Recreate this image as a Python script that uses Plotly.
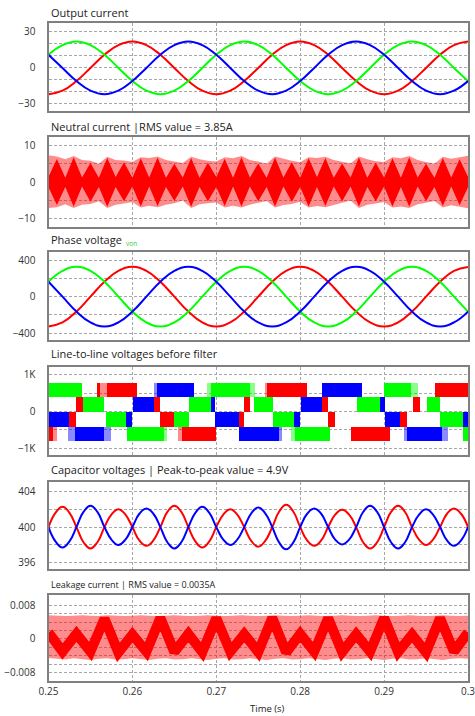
import plotly.graph_objects as go

W, H = 475, 716

# ---------------- data ----------------
# 30-degree (50 Hz) sampling instants
T30 = [0.25, 0.25167, 0.25333, 0.255, 0.25667, 0.25833, 0.26, 0.26167, 0.26333, 0.265,
       0.26667, 0.26833, 0.27, 0.27167, 0.27333, 0.275, 0.27667, 0.27833, 0.28, 0.28167,
       0.28333, 0.285, 0.28667, 0.28833, 0.29, 0.29167, 0.29333, 0.295, 0.29667, 0.29833, 0.3]

# Output current (A)
I_RED = [-22, -19, -11, 0, 11, 19, 22, 19, 11, 0, -11, -19, -22, -19, -11, 0, 11, 19, 22, 19,
         11, 0, -11, -19, -22, -19, -11, 0, 11, 19, 22]
I_GREEN = [11, 19, 22, 19, 11, 0, -11, -19, -22, -19, -11, 0, 11, 19, 22, 19, 11, 0, -11, -19,
           -22, -19, -11, 0, 11, 19, 22, 19, 11, 0, -11]
I_BLUE = [11, 0, -11, -19, -22, -19, -11, 0, 11, 19, 22, 19, 11, 0, -11, -19, -22, -19, -11, 0,
          11, 19, 22, 19, 11, 0, -11, -19, -22, -19, -11]

# Phase voltage (V)
V_RED = [-325, -281, -163, 0, 163, 281, 325, 281, 163, 0, -163, -281, -325, -281, -163, 0, 163, 281,
         325, 281, 163, 0, -163, -281, -325, -281, -163, 0, 163, 281, 325]
V_GREEN = [163, 281, 325, 281, 163, 0, -163, -281, -325, -281, -163, 0, 163, 281, 325, 281, 163, 0,
           -163, -281, -325, -281, -163, 0, 163, 281, 325, 281, 163, 0, -163]
V_BLUE = [163, 0, -163, -281, -325, -281, -163, 0, 163, 281, 325, 281, 163, 0, -163, -281, -325, -281,
          -163, 0, 163, 281, 325, 281, 163, 0, -163, -281, -325, -281, -163]

# 45-degree (150 Hz) sampling instants for the capacitor voltages
T60 = [0.25, 0.25083, 0.25167, 0.2525, 0.25333, 0.25417, 0.255, 0.25583, 0.25667, 0.2575,
       0.25833, 0.25917, 0.26, 0.26083, 0.26167, 0.2625, 0.26333, 0.26417, 0.265, 0.26583,
       0.26667, 0.2675, 0.26833, 0.26917, 0.27, 0.27083, 0.27167, 0.2725, 0.27333, 0.27417,
       0.275, 0.27583, 0.27667, 0.2775, 0.27833, 0.27917, 0.28, 0.28083, 0.28167, 0.2825,
       0.28333, 0.28417, 0.285, 0.28583, 0.28667, 0.2875, 0.28833, 0.28917, 0.29, 0.29083,
       0.29167, 0.2925, 0.29333, 0.29417, 0.295, 0.29583, 0.29667, 0.2975, 0.29833, 0.29917, 0.3]

# Capacitor voltages (V)
C_RED = [400, 401.6, 402.3, 401.6, 400, 398.3, 397.6, 398.3, 400, 401.4, 402.0, 401.4, 400, 398.5,
         397.9, 398.5, 400, 401.7, 402.4, 401.7, 400, 398.4, 397.7, 398.4, 400, 401.4, 402.0, 401.4,
         400, 398.45, 397.8, 398.45, 400, 401.75, 402.5, 401.75, 400, 398.5, 397.9, 398.5, 400,
         401.4, 401.95, 401.4, 400, 398.3, 397.6, 398.3, 400, 401.7, 402.4, 401.7, 400, 398.6,
         398.0, 398.6, 400, 401.5, 402.1, 401.5, 400]
C_BLUE = [400, 398.4, 397.7, 398.4, 400, 401.7, 402.4, 401.7, 400, 398.6, 398.0, 398.6, 400, 401.5,
          402.1, 401.5, 400, 398.3, 397.6, 398.3, 400, 401.6, 402.3, 401.6, 400, 398.6, 398.0, 398.6,
          400, 401.55, 402.2, 401.55, 400, 398.25, 397.5, 398.25, 400, 401.5, 402.1, 401.5, 400,
          398.6, 398.05, 398.6, 400, 401.7, 402.4, 401.7, 400, 398.3, 397.6, 398.3, 400, 401.4,
          402.0, 401.4, 400, 398.5, 397.9, 398.5, 400]

# 1 ms instants for the switching envelopes
T1 = [0.250, 0.251, 0.252, 0.253, 0.254, 0.255, 0.256, 0.257, 0.258, 0.259,
      0.260, 0.261, 0.262, 0.263, 0.264, 0.265, 0.266, 0.267, 0.268, 0.269,
      0.270, 0.271, 0.272, 0.273, 0.274, 0.275, 0.276, 0.277, 0.278, 0.279,
      0.280, 0.281, 0.282, 0.283, 0.284, 0.285, 0.286, 0.287, 0.288, 0.289,
      0.290, 0.291, 0.292, 0.293, 0.294, 0.295, 0.296, 0.297, 0.298, 0.299, 0.300]

# Neutral current envelopes (A)
N_DARK_HI = [1.5, 6.3, 1.2, 6.8, 1.3, 5.2, 1.2, 6.6, 1.4, 5.4, 1.2, 6.5, 1.3, 6.7, 1.2, 5.0, 1.3,
             6.6, 1.2, 5.3, 1.4, 6.4, 1.2, 6.8, 1.3, 5.1, 1.2, 6.7, 1.3, 5.4, 1.2, 6.5, 1.4, 6.6,
             1.2, 5.1, 1.3, 6.7, 1.2, 5.3, 1.3, 6.5, 1.2, 6.8, 1.3, 5.0, 1.2, 6.6, 1.3, 6.2, 1.5]
N_DARK_LO = [-1.4, -6.2, -1.3, -6.6, -1.2, -5.3, -1.3, -6.7, -1.3, -5.2, -1.2, -6.6, -1.2, -6.5, -1.3,
             -5.1, -1.2, -6.7, -1.3, -5.2, -1.3, -6.5, -1.2, -6.6, -1.2, -5.2, -1.3, -6.6, -1.2, -5.3,
             -1.3, -6.6, -1.3, -6.5, -1.2, -5.2, -1.2, -6.6, -1.3, -5.2, -1.2, -6.6, -1.3, -6.7, -1.2,
             -5.1, -1.3, -6.5, -1.2, -6.3, -1.4]
N_LIGHT_HI = [7.3, 7.0, 6.2, 7.1, 6.0, 5.8, 5.0, 6.9, 6.0, 5.9, 5.5, 6.8, 6.6, 7.0, 6.0, 5.6, 5.2,
              6.9, 6.2, 5.8, 5.6, 6.8, 6.5, 7.1, 6.0, 5.6, 5.0, 7.0, 6.3, 5.8, 5.4, 6.8, 6.6, 6.9,
              6.0, 5.5, 5.1, 7.0, 6.2, 5.7, 5.5, 6.8, 6.5, 7.1, 6.0, 5.5, 5.0, 6.9, 6.4, 6.8, 7.2]
N_LIGHT_LO = [-7.0, -6.8, -6.0, -7.0, -6.1, -5.9, -5.2, -7.0, -6.1, -5.8, -5.4, -6.9, -6.4, -6.8, -6.1,
              -5.7, -5.0, -7.0, -6.0, -5.7, -5.5, -6.9, -6.4, -6.9, -6.1, -5.6, -5.1, -6.9, -6.2, -5.9,
              -5.3, -6.9, -6.5, -6.8, -6.1, -5.6, -5.0, -7.0, -6.1, -5.8, -5.4, -6.9, -6.6, -7.0, -6.0,
              -5.6, -5.1, -6.9, -6.3, -6.7, -7.1]

# Leakage current (A)
L_LIGHT_HI = [0.0056, 0.0055, 0.0054, 0.0055, 0.0056, 0.0055, 0.0054, 0.0056, 0.0055, 0.0054,
              0.0055, 0.0056, 0.0055, 0.0054, 0.0055, 0.0056, 0.0055, 0.0054, 0.0055, 0.0056,
              0.0055, 0.0054, 0.0055, 0.0056, 0.0055, 0.0054, 0.0055, 0.0056, 0.0055, 0.0054,
              0.0055, 0.0056, 0.0055, 0.0054, 0.0055, 0.0056, 0.0055, 0.0054, 0.0055, 0.0056,
              0.0055, 0.0054, 0.0055, 0.0056, 0.0055, 0.0054, 0.0055, 0.0056, 0.0055, 0.0054, 0.0055]
L_LIGHT_LO = [-0.0045, -0.0047, -0.0049, -0.0046, -0.0048, -0.0050, -0.0047, -0.0046, -0.0049, -0.0048,
              -0.0046, -0.0048, -0.0050, -0.0047, -0.0046, -0.0049, -0.0048, -0.0046, -0.0048, -0.0050,
              -0.0047, -0.0046, -0.0049, -0.0048, -0.0046, -0.0048, -0.0050, -0.0047, -0.0046, -0.0049,
              -0.0048, -0.0046, -0.0048, -0.0050, -0.0047, -0.0046, -0.0049, -0.0048, -0.0046, -0.0048,
              -0.0050, -0.0047, -0.0046, -0.0049, -0.0048, -0.0046, -0.0048, -0.0050, -0.0047, -0.0046, -0.0047]
L_DARK = [0.0015, -0.0030, 0.0012, -0.0030, 0.0048, -0.0032, 0.0010, -0.0030, 0.0050, -0.0031, 0.0012,
          -0.0031, 0.0049, -0.0030, 0.0011, -0.0031, 0.0050, -0.0032, 0.0012, -0.0030, 0.0049, -0.0031,
          0.0011, -0.0030, 0.0050, -0.0031, 0.0010, -0.0032, 0.0049, -0.0030, 0.0015]

# Line-to-line voltages: [t_start, t_end, v_low, v_high]
LL_GREEN = [[0.25, 0.25397, 400, 800], [0.26933, 0.27393, 400, 800], [0.28988, 0.29313, 400, 800],
            [0.25405, 0.25655, 0, 400], [0.26667, 0.26925, 0, 400], [0.2744, 0.2767, 0, 400],
            [0.28671, 0.28948, 0, 400], [0.29504, 0.29663, 0, 400],
            [0.25675, 0.25913, -400, 0], [0.26488, 0.26667, -400, 0], [0.27671, 0.27925, -400, 0],
            [0.29663, 0.29935, -400, 0],
            [0.25925, 0.26369, -800, -400], [0.27937, 0.28345, -800, -400], [0.2994, 0.3, -800, -400]]
LL_RED = [[0.25577, 0.25613, 400, 800], [0.25697, 0.26054, 400, 800], [0.2760, 0.2807, 400, 800],
          [0.29595, 0.3, 400, 800],
          [0.25325, 0.25405, 0, 400], [0.2625, 0.26321, 0, 400], [0.27321, 0.27401, 0, 400],
          [0.28254, 0.28321, 0, 400], [0.29337, 0.29417, 0, 400],
          [0.25238, 0.25325, -400, 0], [0.26325, 0.26488, -400, 0], [0.27262, 0.27321, -400, 0],
          [0.28321, 0.28413, -400, 0], [0.29187, 0.29266, -400, 0],
          [0.25, 0.2505, -800, -400], [0.26587, 0.26996, -800, -400], [0.286, 0.29067, -800, -400]]
LL_BLUE = [[0.26282, 0.26734, 400, 800], [0.28254, 0.2873, 400, 800],
           [0.26004, 0.2625, 0, 400], [0.26925, 0.26984, 0, 400], [0.28004, 0.28254, 0, 400],
           [0.28948, 0.29, 0, 400],
           [0.25, 0.25238, -400, 0], [0.25913, 0.25992, -400, 0], [0.26984, 0.27262, -400, 0],
           [0.27925, 0.27988, -400, 0], [0.29, 0.29187, -400, 0], [0.29935, 0.3, -400, 0],
           [0.2531, 0.2565, -800, -400], [0.2727, 0.27738, -800, -400], [0.29266, 0.29683, -800, -400]]
# sparse-switching edges (lighter shading)
LL_GREEN_LIGHT = [[0.26369, 0.2641, -800, -400], [0.2688, 0.26933, 400, 800], [0.27393, 0.2745, 400, 800],
                  [0.2788, 0.27937, -800, -400], [0.29313, 0.2940, 400, 800]]
LL_RED_LIGHT = [[0.2505, 0.251, -800, -400], [0.25613, 0.25697, 400, 800], [0.2654, 0.26587, -800, -400],
                [0.2757, 0.2760, 400, 800]]
LL_BLUE_LIGHT = [[0.2523, 0.2531, -800, -400], [0.2565, 0.2574, -800, -400], [0.2625, 0.26282, 400, 800],
                 [0.27738, 0.2778, -800, -400], [0.2923, 0.29266, -800, -400], [0.29683, 0.2975, -800, -400]]

TIME_TICKS = [0.25, 0.26, 0.27, 0.28, 0.29, 0.3]
TIME_LABELS = ["0.25", "0.26", "0.27", "0.28", "0.29", "0.3"]

# ---------------- layout helpers ----------------
PANELS = [(23, 111), (137.3, 226.7), (252.3, 340), (366.7, 455), (481.7, 569.3), (595, 680.7)]
X0, X1 = 48.5, 468
RED, GREEN, BLUE = "#ff0000", "#00ff00", "#0000ff"
FONT = "Open Sans"

fig = go.Figure()


def ax(i):
    return ("x" if i == 1 else f"x{i}"), ("y" if i == 1 else f"y{i}")


def line(i, x, y, color, width=2, shape="spline"):
    xa, ya = ax(i)
    fig.add_trace(go.Scatter(x=x, y=y, mode="lines", line=dict(color=color, width=width, shape=shape,
                                                                 smoothing=1.3 if shape == "spline" else None),
                             xaxis=xa, yaxis=ya, showlegend=False, hoverinfo="skip"))


def band(i, x, hi, lo, color):
    xa, ya = ax(i)
    fig.add_trace(go.Scatter(x=list(x) + list(x)[::-1], y=list(hi) + list(lo)[::-1], mode="lines",
                             fill="toself", fillcolor=color, line=dict(width=0, color=color),
                             xaxis=xa, yaxis=ya, showlegend=False, hoverinfo="skip"))


# Panel 1: output current
line(1, T30, I_RED, RED)
line(1, T30, I_GREEN, GREEN)
line(1, T30, I_BLUE, BLUE)

# Panel 2: neutral current
band(2, T1, N_LIGHT_HI, N_LIGHT_LO, "rgba(255,0,0,0.45)")
band(2, T1, N_DARK_HI, N_DARK_LO, RED)

# Panel 3: phase voltage
line(3, T30, V_RED, RED)
line(3, T30, V_GREEN, GREEN)
line(3, T30, V_BLUE, BLUE)

# Panel 4: line-to-line voltage blocks
for segs, col, op in [(LL_GREEN_LIGHT, GREEN, 0.45), (LL_RED_LIGHT, RED, 0.45), (LL_BLUE_LIGHT, BLUE, 0.45),
                      (LL_GREEN, GREEN, 1), (LL_RED, RED, 1), (LL_BLUE, BLUE, 1)]:
    fig.add_trace(go.Bar(x=[(s[0] + s[1]) / 2 for s in segs], width=[s[1] - s[0] for s in segs],
                         base=[s[2] for s in segs], y=[s[3] - s[2] for s in segs],
                         marker=dict(color=col, line=dict(width=0)), opacity=op, xaxis="x4", yaxis="y4",
                         showlegend=False, hoverinfo="skip"))

# Panel 5: capacitor voltages
line(5, T60, C_RED, RED)
line(5, T60, C_BLUE, BLUE)

# Panel 6: leakage current
band(6, T1, L_LIGHT_HI, L_LIGHT_LO, "rgba(255,0,0,0.45)")
line(6, T30, L_DARK, RED, width=10, shape="linear")

YAX = [
    ([-36, 37.5], [-30, -20, -10, 0, 10, 20, 30], ["\u221230", "", "", "0", "", "", "30"]),
    ([-12.1, 12.2], [-10, -5, 0, 5, 10], ["\u221210", "", "0", "", "10"]),
    ([-473, 484], [-400, -200, 0, 200, 400], ["\u2212400", "", "0", "", "400"]),
    ([-1183, 1226], [-1000, -500, 0, 500, 1000], ["\u22121K", "", "0", "", "1K"]),
    ([395.26, 405.1], [396, 398, 400, 402, 404], ["396", "", "400", "", "404"]),
    ([-0.0099, 0.0104], [-0.008, -0.006, -0.004, -0.002, 0, 0.002, 0.004, 0.006, 0.008],
     ["\u22120.008", "", "", "", "0", "", "", "", "0.008"]),
]

TICKFONT = dict(family=FONT, size=10, color="#333")
layout = dict(width=W, height=H, margin=dict(l=0, r=0, t=0, b=0, autoexpand=False),
              paper_bgcolor="white", plot_bgcolor="white", barmode="overlay", bargap=0,
              font=dict(family=FONT, size=10, color="#222"))
grid = dict(showgrid=True, gridcolor="#a8a8a8", griddash="3px,2px", gridwidth=1, zeroline=False,
            showline=True, mirror=True, linecolor="#808080", linewidth=2, ticks="", automargin=False)
for i, (top, bot) in enumerate(PANELS, start=1):
    sx = "" if i == 1 else str(i)
    layout["xaxis" + sx] = dict(domain=[X0 / W, X1 / W], range=[0.25, 0.300001], anchor="y" + sx,
                                tickvals=TIME_TICKS, ticktext=TIME_LABELS, showticklabels=(i == 6),
                                tickfont=TICKFONT, ticklabeloverflow="allow", **grid)
    rng, tv, tt = YAX[i - 1]
    layout["yaxis" + sx] = dict(domain=[1 - bot / H, 1 - top / H], range=rng, anchor="x" + sx,
                                tickvals=tv, ticktext=tt, tickfont=TICKFONT,
                                ticklabelstandoff=9, **grid)

fig.update_layout(**layout)

TITLES = [("Output current", 12, 11), ("Neutral current |RMS value = 3.85A", 126, 11),
          ("Phase voltage", 240, 11), ("Line-to-line voltages before filter", 354, 11),
          ("Capacitor voltages | Peak-to-peak value = 4.9V", 469, 11),
          ("Leakage current | RMS value = 0.0035A", 584, 9)]
for txt, y, sz in TITLES:
    fig.add_annotation(text=txt, x=49 / W, y=1 - y / H, xref="paper", yref="paper", xanchor="left",
                       yanchor="middle", showarrow=False, font=dict(size=sz, color="#222", family=FONT))
fig.add_annotation(text="von", x=124 / W, y=1 - 243 / H, xref="paper", yref="paper", xanchor="left",
                   yanchor="middle", showarrow=False, font=dict(size=6.5, color="#33cc33", family=FONT))
fig.add_annotation(text="Time (s)", x=267 / W, y=1 - 708 / H, xref="paper", yref="paper",
                   xanchor="center", yanchor="middle", showarrow=False,
                   font=dict(size=9.5, color="#222", family=FONT))

fig.write_html("out.html", config={"displayModeBar": False},
               post_script="document.body.style.margin='0px';document.body.style.overflow='hidden';")
